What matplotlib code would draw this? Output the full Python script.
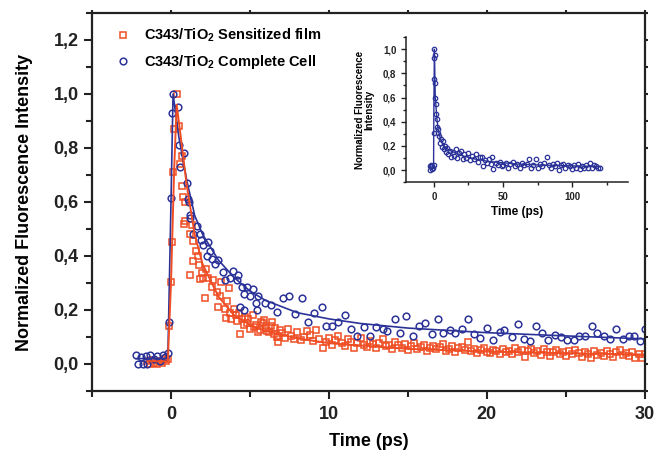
import numpy as np
import matplotlib
matplotlib.use("Agg")
import matplotlib.pyplot as plt
from matplotlib.ticker import MultipleLocator, FuncFormatter

plt.rcParams['font.family'] = ['Liberation Sans', 'DejaVu Sans']
plt.rcParams['font.weight'] = 'bold'
plt.rcParams['mathtext.fontset'] = 'custom'
plt.rcParams['mathtext.rm'] = 'Liberation Sans:bold'
plt.rcParams['mathtext.default'] = 'rm'

RED = '#EF4E25'
BLUE = '#2B3399'

# --- sensitized film (squares) ---
film_t = [-1.5, -1.35, -1.2, -1.05, -0.9, -0.75, -0.6, -0.45, -0.3, -0.2,
          -0.13, 0.0, 0.04, 0.1, 0.2, 0.36, 0.5, 0.57, 0.68, 0.7, 0.77, 0.83, 0.88, 0.9,
          1.2, 1.21, 1.3, 1.38, 1.4, 1.6, 1.73, 1.78, 1.84, 1.95, 2.04, 2.16, 2.2, 2.36,
          2.58, 2.67, 2.9, 2.98, 3.1, 3.15, 3.43, 3.5, 3.56, 3.68, 3.75, 3.8, 4.0, 4.13,
          4.2, 4.3, 4.4, 4.5, 4.6, 4.7, 4.8, 4.9, 5.0, 5.2, 5.25, 5.4, 5.5, 5.65, 5.7,
          5.85, 5.86, 6.0, 6.1, 6.2, 6.3, 6.4, 6.5, 6.6, 6.7, 6.75, 6.8, 6.9,
          7.0, 7.2, 7.4, 7.6, 7.8, 8.0, 8.2, 8.4, 8.6, 8.8, 9.0, 9.2, 9.4, 9.6, 9.8,
          10.0, 10.2, 10.4, 10.6, 10.8, 11.0, 11.2, 11.4, 11.6, 11.8, 12.0, 12.2, 12.4,
          12.6, 12.8, 13.0, 13.2, 13.4, 13.6, 13.8, 14.0, 14.2, 14.4, 14.6, 14.8, 15.0,
          15.2, 15.4, 15.6, 15.8, 16.0, 16.2, 16.4, 16.6, 16.8, 17.0, 17.2, 17.4, 17.6,
          17.8, 18.0, 18.2, 18.4, 18.6, 18.8, 19.0, 19.2, 19.4, 19.6, 19.8, 20.0, 20.2,
          20.4, 20.6, 20.8, 21.0, 21.2, 21.4, 21.6, 21.8, 22.0, 22.2, 22.4, 22.6, 22.8,
          23.0, 23.2, 23.4, 23.6, 23.8, 24.0, 24.2, 24.4, 24.6, 24.8, 25.0, 25.2, 25.4,
          25.6, 25.8, 26.0, 26.2, 26.4, 26.6, 26.8, 27.0, 27.2, 27.4, 27.6, 27.8, 28.0,
          28.2, 28.4, 28.6, 28.8, 29.0, 29.2, 29.4, 29.6, 29.8, 30.0]
film_y = [0.01, 0.0, 0.015, 0.005, 0.0, 0.012, 0.005, 0.018, 0.01, 0.02,
          0.14, 0.305, 0.45, 0.71, 0.87, 1.0, 0.88, 0.74, 0.77, 0.66, 0.62, 0.52, 0.6, 0.53,
          0.48, 0.33, 0.515, 0.455, 0.38, 0.42, 0.40, 0.367, 0.315, 0.338, 0.32, 0.245, 0.35, 0.32,
          0.285, 0.31, 0.268, 0.21, 0.25, 0.305, 0.204, 0.17, 0.233, 0.28, 0.19, 0.167, 0.205, 0.18,
          0.16, 0.19, 0.11, 0.167, 0.145, 0.175, 0.15, 0.165, 0.13, 0.18, 0.138, 0.145, 0.117, 0.126, 0.155,
          0.15, 0.163, 0.135, 0.124, 0.118, 0.14, 0.157, 0.112, 0.133, 0.1, 0.083, 0.10, 0.127,
          0.115, 0.098, 0.130, 0.105, 0.092, 0.118, 0.089, 0.100, 0.121, 0.107, 0.085, 0.126, 0.094, 0.059, 0.081,
          0.097, 0.072, 0.088, 0.104, 0.076, 0.067, 0.092, 0.083, 0.061, 0.078, 0.095, 0.070, 0.064,
          0.086, 0.074, 0.058, 0.079, 0.091, 0.066, 0.072, 0.055, 0.083, 0.069, 0.061, 0.074, 0.050,
          0.066, 0.078, 0.057, 0.062, 0.071, 0.048, 0.059, 0.067, 0.054, 0.062, 0.073, 0.049, 0.057,
          0.065, 0.044, 0.058, 0.063, 0.050, 0.080, 0.047, 0.056, 0.042, 0.053, 0.061, 0.045, 0.039,
          0.052, 0.047, 0.036, 0.055, 0.043, 0.049, 0.038, 0.058, 0.044, 0.051, 0.026, 0.047, 0.055,
          0.040, 0.049, 0.035, 0.057, 0.043, 0.031, 0.046, 0.052, 0.038, 0.044, 0.029, 0.048, 0.036,
          0.051, 0.041, 0.027, 0.045, 0.037, 0.021, 0.049, 0.034, 0.042, 0.030, 0.047, 0.038, 0.026,
          0.044, 0.052, 0.033, 0.040, 0.028, 0.043, 0.024, 0.036, 0.021, 0.038]

film_fit_t = [-1.5, -0.2, 0.0, 0.2, 0.36, 0.6, 1.0, 1.5, 2.0, 3.0, 4.0, 5.0, 6.0, 8.0,
              10.0, 15.0, 20.0, 25.0, 30.0]
film_fit_y = [0.01, 0.01, 0.30, 0.72, 0.96, 0.85, 0.66, 0.48, 0.37, 0.25, 0.18, 0.145,
              0.122, 0.095, 0.077, 0.056, 0.046, 0.040, 0.035]

# --- complete cell (circles) ---
cell_t = [-2.2, -2.1, -1.9, -1.8, -1.6, -1.5, -1.3, -1.1, -0.9, -0.7, -0.5, -0.35, -0.2,
          -0.13, 0.0, 0.04, 0.13, 0.45, 0.49, 0.57, 0.83, 1.0, 1.08, 1.14, 1.2, 1.22, 1.4,
          1.63, 1.84, 1.9, 2.04, 2.27, 2.36, 2.48, 2.58, 2.8, 3.0, 3.28, 3.43, 3.75, 3.94,
          4.2, 4.26, 4.4, 4.5, 4.6, 4.65, 4.8, 5.0, 5.2, 5.4, 5.45, 5.5, 5.97, 6.3, 6.7,
          7.1, 7.5, 7.87, 8.3, 8.7, 9.08, 9.57, 9.84, 10.2, 10.6, 11.0, 11.4, 11.8, 12.2,
          12.6, 13.0, 13.4, 13.7, 14.2, 14.5, 14.9, 15.3, 15.7, 16.1, 16.5, 16.9, 17.25,
          17.65, 18.0, 18.4, 18.8, 19.2, 19.56, 20.0, 20.4, 20.8, 21.1, 21.6, 21.95, 22.35,
          22.7, 23.1, 23.5, 23.9, 24.3, 24.7, 25.1, 25.5, 25.8, 26.2, 26.65, 27.0, 27.4,
          27.8, 28.2, 28.6, 29.0, 29.3, 29.7, 30.0]
cell_y = [0.033, 0.0, 0.025, 0.0, 0.03, 0.0, 0.035, 0.02, 0.03, 0.01, 0.035, 0.025, 0.04,
          0.157, 0.615, 0.93, 1.0, 0.95, 0.81, 0.73, 0.78, 0.67, 0.61, 0.60, 0.55, 0.54, 0.48,
          0.51, 0.48, 0.46, 0.44, 0.40, 0.45, 0.42, 0.39, 0.37, 0.385, 0.34, 0.31, 0.32, 0.345,
          0.31, 0.33, 0.21, 0.285, 0.26, 0.20, 0.285, 0.25, 0.277, 0.225, 0.20, 0.25, 0.225, 0.218, 0.194,
          0.243, 0.253, 0.185, 0.246, 0.157, 0.188, 0.21, 0.141, 0.141, 0.155, 0.18, 0.13, 0.104, 0.137,
          0.104, 0.138, 0.13, 0.124, 0.167, 0.116, 0.178, 0.104, 0.141, 0.152, 0.111, 0.167, 0.116,
          0.126, 0.115, 0.13, 0.167, 0.111, 0.096, 0.134, 0.089, 0.118, 0.126, 0.1, 0.148, 0.093,
          0.086, 0.141, 0.116, 0.089, 0.107, 0.1, 0.089, 0.089, 0.104, 0.104, 0.141, 0.116, 0.104,
          0.093, 0.13, 0.093, 0.104, 0.104, 0.085, 0.13]

cell_fit_t = [-2.2, -0.2, 0.0, 0.13, 0.5, 1.0, 1.5, 2.0, 3.0, 4.0, 5.0, 6.0, 8.0, 10.0,
              12.0, 15.0, 20.0, 25.0, 30.0]
cell_fit_y = [0.02, 0.02, 0.60, 1.0, 0.84, 0.68, 0.55, 0.48, 0.385, 0.32, 0.27, 0.235,
              0.19, 0.167, 0.150, 0.133, 0.116, 0.104, 0.093]

# --- long time window for the inset ---
long_t = [-3, -2.5, -2, -1.5, -1, -0.5, -0.2, 0, 0.2, 0.3, 0.4, 0.6, 0.8, 1.0, 1.3, 1.6,
          2.0, 2.4, 2.8, 3.3, 3.8, 4.4, 5.0, 5.6, 6.3, 7.0, 7.8, 8.6, 9.5, 10.4, 11.4, 12.4,
          13.5, 14.6, 15.8, 17.0, 18.2, 19.5, 20.8, 22.1, 23.5, 24.9, 26.3, 27.7, 29.1, 30.5,
          32.0, 33.5, 35.0, 35.6, 37, 38.5, 40, 41.5, 42, 43, 44.5, 46, 47.5, 49, 50.2, 52,
          53.5, 55, 57, 58.5, 60, 62, 63.5, 65, 67, 68.8, 70, 71.5, 73.6, 75, 76.5, 78, 79.5,
          81.3, 83, 84.5, 86, 87.5, 89, 90.6, 92, 93.5, 95, 96.5, 98, 99.5, 101, 102.5, 104,
          105.5, 107, 108.5, 110, 111.5, 112.8, 114, 115.5, 117, 118.5, 120]
long_y = [0.03, 0.0, 0.04, 0.01, 0.03, 0.02, 0.04, 0.31, 0.75, 0.93, 1.0, 0.95, 0.72, 0.6,
          0.55, 0.46, 0.42, 0.36, 0.31, 0.34, 0.28, 0.22, 0.26, 0.19, 0.24, 0.17, 0.2, 0.15,
          0.18, 0.13, 0.16, 0.11, 0.15, 0.12, 0.17, 0.1, 0.14, 0.16, 0.09, 0.13, 0.1, 0.14,
          0.08, 0.12, 0.09, 0.13, 0.07, 0.11, 0.11, 0.03, 0.08, 0.06, 0.09, 0.05, 0.11, 0.005,
          0.06, 0.04, 0.07, 0.03, 0.04, 0.06, 0.02, 0.05, 0.07, 0.03, 0.05, 0.02, 0.06, 0.04,
          0.05, 0.095, 0.015, 0.04, 0.09, 0.02, 0.05, 0.03, 0.06, 0.11, 0.04, 0.02, 0.05, 0.03,
          0.06, 0.0, 0.04, 0.05, 0.02, 0.045, 0.03, 0.006, 0.04, 0.02, 0.05, 0.01, 0.035, 0.02,
          0.04, 0.015, 0.06, 0.02, 0.04, 0.033, 0.02, 0.015]

long_fit_t = [-3, -0.2, 0, 0.4, 1, 2, 3, 5, 8, 12, 20, 30, 40, 60, 80, 100, 120]
long_fit_y = [0.02, 0.02, 0.5, 1.0, 0.62, 0.45, 0.34, 0.25, 0.19, 0.16, 0.12, 0.09,
              0.07, 0.05, 0.04, 0.035, 0.03]


def comma(v, pos):
    return f'{v:.1f}'.replace('.', ',')


fig = plt.figure(figsize=(6.54, 4.53), dpi=100)
ax = fig.add_axes([0.1407, 0.1369, 0.8453, 0.8344])

ax.plot(film_t, film_y, ls='none', marker='s', ms=4.6, mfc='none', mec=RED, mew=1.1,
        label=r'C343/TiO$_2$ Sensitized film')
ax.plot(cell_t, cell_y, ls='none', marker='o', ms=4.8, mfc='none', mec=BLUE, mew=1.1,
        label=r'C343/TiO$_2$ Complete Cell')
ax.plot(cell_fit_t, cell_fit_y, color=BLUE, lw=1.2)
ax.plot(film_fit_t, film_fit_y, color=RED, lw=1.4)

ax.set_xlim(-5, 30)
ax.set_ylim(-0.1, 1.3)
ax.xaxis.set_major_locator(MultipleLocator(10))
ax.xaxis.set_minor_locator(MultipleLocator(5))
ax.yaxis.set_major_locator(MultipleLocator(0.2))
ax.yaxis.set_minor_locator(MultipleLocator(0.1))
ax.yaxis.set_major_formatter(FuncFormatter(comma))

for s in ax.spines.values():
    s.set_linewidth(1.6)
    s.set_color('#222222')
ax.tick_params(which='both', direction='out', width=1.5, labelsize=13, colors='#222222',
               top=True, right=True)
ax.tick_params(which='major', length=6)
ax.tick_params(which='minor', length=4)
ax.tick_params(axis='x', which='both', pad=5)
# short stubs on the top and right frame
for t in ax.xaxis.get_ticklines(minor=False)[1::2] + ax.xaxis.get_ticklines(minor=True)[1::2]:
    t.set_markersize(2)
for t in ax.yaxis.get_ticklines(minor=False)[1::2] + ax.yaxis.get_ticklines(minor=True)[1::2]:
    t.set_markersize(2)

ax.set_xlabel('Time (ps)', fontsize=13, fontweight='bold', labelpad=7)
ax.set_ylabel('Normalized Fluorescence Intensity', fontsize=13, fontweight='bold', labelpad=15)

ax.legend(loc='upper left', bbox_to_anchor=(0.025, 0.99), frameon=False, fontsize=10.5,
          handlelength=1.0, handletextpad=0.9, labelspacing=0.6, numpoints=1,
          borderaxespad=0.3)

# inset: full decay out to 120 ps
ins = fig.add_axes([0.621, 0.598, 0.339, 0.320])
ins.plot(long_t, long_y, ls='none', marker='o', ms=3.2, mfc='none', mec=BLUE, mew=0.9)
ins.plot(long_fit_t, long_fit_y, color=BLUE, lw=1.0)
ins.set_xlim(-20, 140)
ins.set_ylim(-0.1, 1.1)
ins.xaxis.set_major_locator(MultipleLocator(50))
ins.xaxis.set_minor_locator(MultipleLocator(25))
ins.yaxis.set_major_locator(MultipleLocator(0.2))
ins.yaxis.set_minor_locator(MultipleLocator(0.1))
ins.yaxis.set_major_formatter(FuncFormatter(comma))
ins.spines['top'].set_visible(False)
ins.spines['right'].set_visible(False)
for s in ('left', 'bottom'):
    ins.spines[s].set_linewidth(1.1)
    ins.spines[s].set_color('#222222')
ins.tick_params(which='both', direction='out', width=1.0, labelsize=7, colors='#222222')
ins.tick_params(which='major', length=3.5)
ins.tick_params(which='minor', length=2)
ins.set_xlabel('Time (ps)', fontsize=8.5, fontweight='bold', labelpad=3)
ins.set_ylabel('Normalized Fluorescence\nIntensity', fontsize=7, fontweight='bold',
               linespacing=1.0, labelpad=6)

fig.savefig('out.png', dpi=100)
